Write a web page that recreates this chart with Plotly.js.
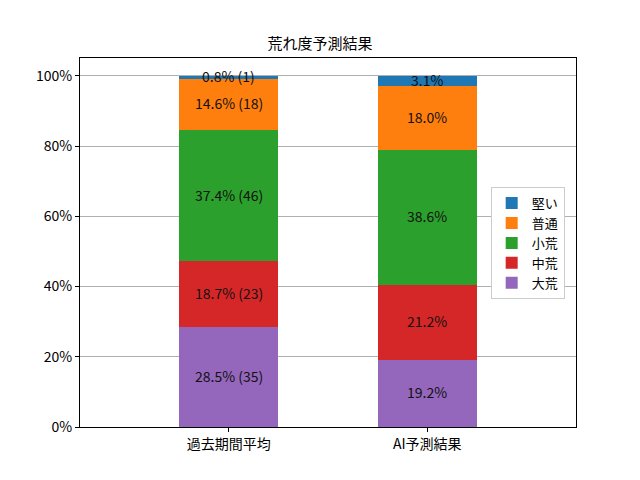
<!DOCTYPE html>
<html><head><meta charset="utf-8">
<script src="https://cdn.plot.ly/plotly-3.0.1.min.js"></script>
<style>body{margin:0}#c{width:640px;height:480px}</style>
</head><body><div id="c"></div>
<script>
const categories = ['過去期間平均', 'AI予測結果'];
const seriesNames = ['大荒', '中荒', '小荒', '普通', '堅い'];
const colors = ['#9467bd', '#d62728', '#2ca02c', '#ff7f0e', '#1f77b4'];
const pastPct = [28.5, 18.7, 37.4, 14.6, 0.8];
const pastCount = [35, 23, 46, 18, 1];
const aiPct = [19.2, 21.2, 38.6, 18.0, 3.1];
const tickVals = [0, 20, 40, 60, 80, 100];
const tickText = ['0%', '20%', '40%', '60%', '80%', '100%'];

const font = 'Noto Sans CJK JP, sans-serif';
const traces = seriesNames.map((n, i) => ({
  type: 'bar', name: n, x: categories, y: [pastPct[i], aiPct[i]],
  marker: {color: colors[i], line: {width: 0}}, width: 0.5, hoverinfo: 'none'
}));
const annotations = [];
let c0 = 0, c1 = 0;
seriesNames.forEach((n, i) => {
  annotations.push({x: categories[0], y: c0 + pastPct[i] / 2, xref: 'x', yref: 'y', yshift: 1,
    text: pastPct[i].toFixed(1) + '% (' + pastCount[i] + ')', showarrow: false,
    font: {size: 14, color: '#111', family: font}});
  annotations.push({x: categories[1], y: c1 + aiPct[i] / 2, xref: 'x', yref: 'y', yshift: 1,
    text: aiPct[i].toFixed(1) + '%', showarrow: false,
    font: {size: 14, color: '#111', family: font}});
  c0 += pastPct[i]; c1 += aiPct[i];
});
const layout = {
  width: 640, height: 480, barmode: 'stack',
  margin: {l: 80, r: 64, t: 58, b: 53},
  paper_bgcolor: 'white', plot_bgcolor: 'white',
  font: {family: font, size: 14, color: '#000'},
  title: {text: '荒れ度予測結果', x: 0.5, xanchor: 'center', y: 0.908, yanchor: 'middle', font: {size: 15, family: font}},
  xaxis: {range: [-0.75, 1.75], showline: true, mirror: true, linecolor: '#000', linewidth: 1,
    ticks: 'outside', ticklen: 4, tickcolor: '#000', showgrid: false, tickfont: {size: 14}},
  yaxis: {range: [0, 105.1], tickvals: tickVals, ticktext: tickText, showline: true, mirror: true,
    linecolor: '#000', linewidth: 1, ticks: 'outside', ticklen: 4, tickcolor: '#000',
    showgrid: true, gridcolor: '#b0b0b0', gridwidth: 1, zeroline: false, tickfont: {size: 14}},
  legend: {x: 0.828, y: 0.65, xanchor: 'left', yanchor: 'top', traceorder: 'reversed',
    bordercolor: '#cccccc', borderwidth: 1, bgcolor: 'white', font: {size: 13, family: font}},
  annotations: annotations
};
Plotly.newPlot('c', traces, layout, {displayModeBar: false});
</script></body></html>
